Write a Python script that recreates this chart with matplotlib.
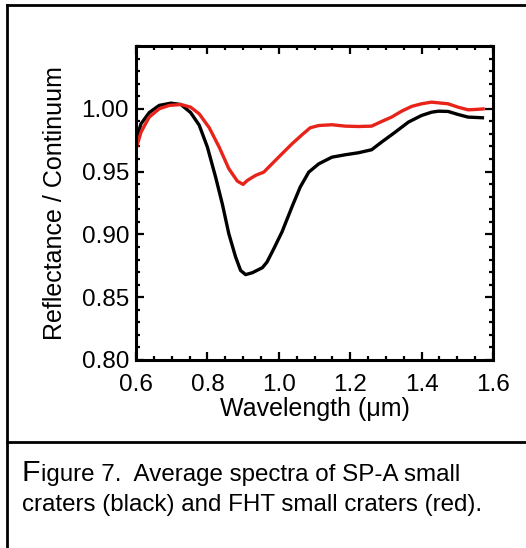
import matplotlib
matplotlib.use("Agg")
import matplotlib.pyplot as plt
from matplotlib.lines import Line2D
from matplotlib.ticker import MultipleLocator, FormatStrFormatter

plt.rcParams['font.family'] = ['Liberation Sans', 'DejaVu Sans']

# Data
wl_black = [0.600, 0.614, 0.637, 0.665, 0.698, 0.726, 0.753, 0.777, 0.800, 0.823,
            0.842, 0.860, 0.879, 0.893, 0.907, 0.926, 0.954, 0.967, 0.986, 1.009,
            1.037, 1.060, 1.084, 1.112, 1.149, 1.186, 1.223, 1.260, 1.288, 1.326,
            1.363, 1.400, 1.428, 1.447, 1.474, 1.502, 1.530, 1.575]
spa_black = [0.975, 0.988, 0.997, 1.0027, 1.0045, 1.0034, 0.997, 0.987, 0.9695, 0.9456,
             0.924, 0.9005, 0.882, 0.8713, 0.868, 0.8695, 0.8735, 0.878, 0.8886, 0.902,
             0.922, 0.9377, 0.9496, 0.9562, 0.9615, 0.9634, 0.965, 0.9674, 0.9735, 0.9814,
             0.9894, 0.9947, 0.9973, 0.9981, 0.9979, 0.9955, 0.9934, 0.9928]

wl_red = [0.600, 0.614, 0.637, 0.665, 0.693, 0.726, 0.753, 0.777, 0.805, 0.833,
          0.860, 0.884, 0.900, 0.912, 0.935, 0.958, 0.981, 1.009, 1.037, 1.065,
          1.088, 1.112, 1.149, 1.186, 1.223, 1.260, 1.288, 1.316, 1.344, 1.372,
          1.400, 1.428, 1.456, 1.474, 1.502, 1.530, 1.553, 1.577]
fht_red = [0.968, 0.9814, 0.9934, 1.000, 1.0027, 1.0034, 1.0013, 0.996, 0.985, 0.9695,
           0.9523, 0.9424, 0.9398, 0.943, 0.947, 0.9496, 0.9562, 0.9642, 0.9721, 0.9793,
           0.9849, 0.9867, 0.9873, 0.9862, 0.9859, 0.9862, 0.9899, 0.9934, 0.9981, 1.0019,
           1.004, 1.0053, 1.0045, 1.004, 1.0013, 0.9992, 0.9995, 1.000]

xticks = [0.6, 0.8, 1.0, 1.2, 1.4, 1.6]
yticks = [0.80, 0.85, 0.90, 0.95, 1.00]

W, H = 526, 548
fig = plt.figure(figsize=(W / 100, H / 100), dpi=100)

ax_l, ax_r, ax_t, ax_b = 136, 493, 46, 360
ax = fig.add_axes([ax_l / W, 1 - ax_b / H, (ax_r - ax_l) / W, (ax_b - ax_t) / H])

ax.plot(wl_black, spa_black, color='black', lw=2.4, solid_joinstyle='round', solid_capstyle='butt')
ax.plot(wl_red, fht_red, color='#e8231a', lw=2.4, solid_joinstyle='round', solid_capstyle='butt')

ax.set_xlim(0.6, 1.6)
ax.set_ylim(0.80, 1.05)
ax.set_xticks(xticks)
ax.set_yticks(yticks)
ax.xaxis.set_major_formatter(FormatStrFormatter('%.1f'))
ax.yaxis.set_major_formatter(FormatStrFormatter('%.2f'))
ax.xaxis.set_minor_locator(MultipleLocator(0.05))
ax.yaxis.set_minor_locator(MultipleLocator(0.01))
ax.tick_params(which='both', direction='in', top=True, right=True, width=1.6, colors='black')
ax.tick_params(which='major', length=6)
ax.tick_params(which='minor', length=3)
ax.tick_params(axis='x', which='major', labelsize=17.5, pad=10)
ax.tick_params(axis='y', which='major', labelsize=17.5, pad=5)
for s in ax.spines.values():
    s.set_linewidth(2.2)

ax.set_xlabel('Wavelength (\u03bcm)', fontsize=18, va='center')
ax.xaxis.set_label_coords(0.5, (ax_b - 409) / (ax_b - ax_t))
ax.set_ylabel('Reflectance / Continuum', fontsize=18, va='center')
ax.yaxis.set_label_coords((55 - ax_l) / (ax_r - ax_l), 0.5)

# Frame lines
lw_frame = 2.0
fig.add_artist(Line2D([7 / W, 1.0], [1 - 5 / H, 1 - 5 / H], color='black', lw=lw_frame, transform=fig.transFigure))
fig.add_artist(Line2D([7 / W, 7 / W], [0.0, 1 - 5 / H], color='black', lw=lw_frame, transform=fig.transFigure))
fig.add_artist(Line2D([7 / W, 1.0], [1 - 442 / H, 1 - 442 / H], color='black', lw=lw_frame, transform=fig.transFigure))

# Caption
cap_size = 17.4
fig.canvas.draw()
renderer = fig.canvas.get_renderer()
tF = fig.text(22 / W, 1 - 481 / H, 'F', fontsize=cap_size * 1.25, va='baseline', ha='left')
bb = tF.get_window_extent(renderer=renderer)
fig.text(bb.x1 / W + 0.5 / W, 1 - 481 / H, 'igure 7.  Average spectra of SP-A small',
         fontsize=cap_size, va='baseline', ha='left')
fig.text(22 / W, 1 - 511 / H, 'craters (black) and FHT small craters (red).',
         fontsize=cap_size, va='baseline', ha='left')

fig.savefig('out.png', dpi=100)
